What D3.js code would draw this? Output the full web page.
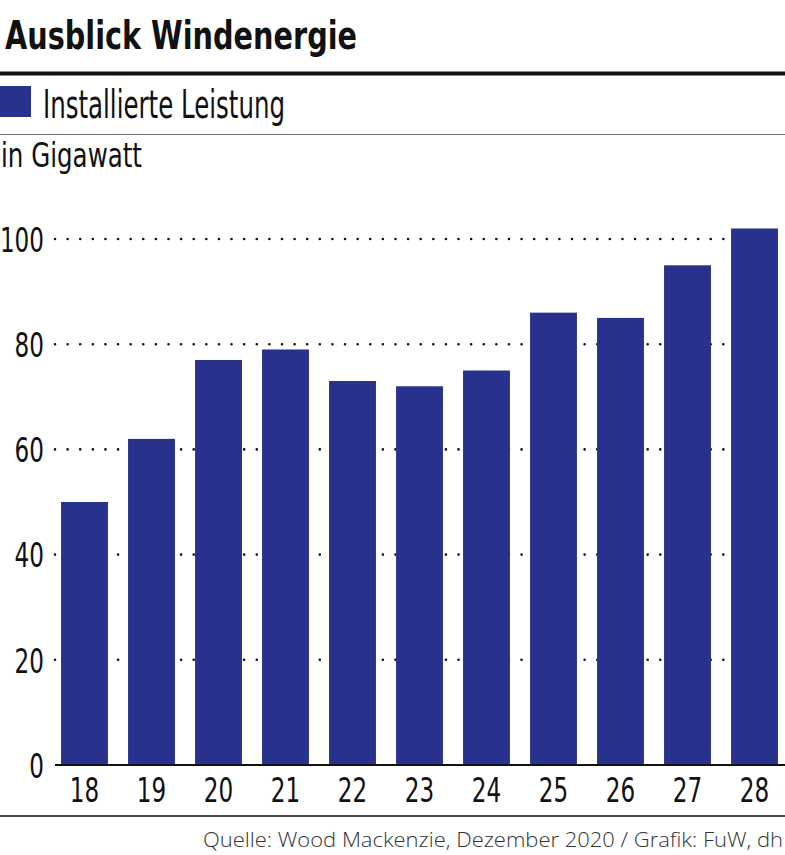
<!DOCTYPE html>
<html><head><meta charset="utf-8">
<script src="https://cdn.jsdelivr.net/npm/d3@7/dist/d3.min.js"></script>
<style>
body{margin:0;background:#fff;}
svg{display:block;}
.cond{font-family:"DejaVu Sans",sans-serif;}
</style></head>
<body>
<script>
const categories = ["18","19","20","21","22","23","24","25","26","27","28"];
const values = [50,62,77,79,73,72,75,86,85,95,102];
const yTicks = [0,20,40,60,80,100];
const title = "Ausblick Windenergie";
const seriesName = "Installierte Leistung";
const unitLabel = "in Gigawatt";
const source = "Quelle: Wood Mackenzie, Dezember 2020 / Grafik: FuW, dh";

const W = 785, H = 855;
const barColor = "#28328c";
const condense = 0.68;
const svg = d3.select("body").append("svg").attr("width", W).attr("height", H);

const x = d3.scaleBand().domain(categories).range([51, 788]).paddingInner(0.3).paddingOuter(0.15);
const y = d3.scaleLinear().domain([0, 100]).range([765, 239]);

// Title
svg.append("text").attr("class","cond").attr("x", 5).attr("y", 49)
  .attr("font-size", 39).attr("font-weight", "bold").attr("fill","#111")
  .attr("textLength", 352).attr("lengthAdjust","spacingAndGlyphs").text(title);
svg.append("line").attr("x1",0).attr("x2",W).attr("y1",73.5).attr("y2",73.5)
  .attr("stroke","#111").attr("stroke-width",4);

// Legend
svg.append("rect").attr("x",0).attr("y",86).attr("width",31).attr("height",31).attr("fill",barColor);
svg.append("text").attr("class","cond").attr("x",43).attr("y",118)
  .attr("font-size",39).attr("fill","#111")
  .attr("textLength", 242).attr("lengthAdjust","spacingAndGlyphs").text(seriesName);
svg.append("line").attr("x1",0).attr("x2",W).attr("y1",134.5).attr("y2",134.5)
  .attr("stroke","#777").attr("stroke-width",1);

svg.append("text").attr("class","cond").attr("x",1).attr("y",167)
  .attr("font-size",34).attr("fill","#111")
  .attr("textLength", 141).attr("lengthAdjust","spacingAndGlyphs").text(unitLabel);

// Grid
const grid = svg.append("g");
grid.selectAll("line").data(yTicks.filter(d => d > 0)).join("line")
  .attr("x1", 55).attr("x2", W).attr("y1", d => y(d)).attr("y2", d => y(d))
  .attr("stroke","#111").attr("stroke-width",2.6)
  .attr("stroke-linecap","round")
  .attr("stroke-dasharray","0.01 12.6");

// Bars
svg.append("g").selectAll("rect").data(values).join("rect")
  .attr("x", (d,i) => x(categories[i]))
  .attr("width", x.bandwidth())
  .attr("y", d => y(d))
  .attr("height", d => y(0) - y(d))
  .attr("fill", barColor);

// Baseline
svg.append("line").attr("x1",55).attr("x2",W).attr("y1",y(0)).attr("y2",y(0))
  .attr("stroke","#111").attr("stroke-width",2);

// Y axis labels
const yAxis = d3.axisLeft(y).tickValues(yTicks).tickSize(0).tickPadding(0);
const yg = svg.append("g").attr("transform","translate(44,0)").call(yAxis);
yg.select(".domain").remove();
yg.selectAll("text").attr("class","cond").attr("font-size",34).attr("fill","#111")
  .attr("font-family",null).attr("dy","0.36em")
  .attr("transform",`scale(${condense},1)`);

// X axis labels
const xAxis = d3.axisBottom(x).tickSize(0).tickPadding(0);
const xg = svg.append("g").attr("transform",`translate(0,${y(0)})`).call(xAxis);
xg.select(".domain").remove();
xg.selectAll("text").attr("class","cond").attr("font-size",34).attr("fill","#111")
  .attr("font-family",null).attr("dy",null).attr("y",37)
  .attr("transform",`scale(${condense},1)`);

// Bottom rule and source
svg.append("line").attr("x1",0).attr("x2",W).attr("y1",816).attr("y2",816)
  .attr("stroke","#111").attr("stroke-width",1.5);
svg.append("text").attr("x",783).attr("y",847).attr("text-anchor","end")
  .attr("font-family","'Open Sans',sans-serif").attr("font-weight",300)
  .attr("font-size",21).attr("fill","#333")
  .attr("textLength", 580).attr("lengthAdjust","spacingAndGlyphs").text(source);
</script>
</body></html>
